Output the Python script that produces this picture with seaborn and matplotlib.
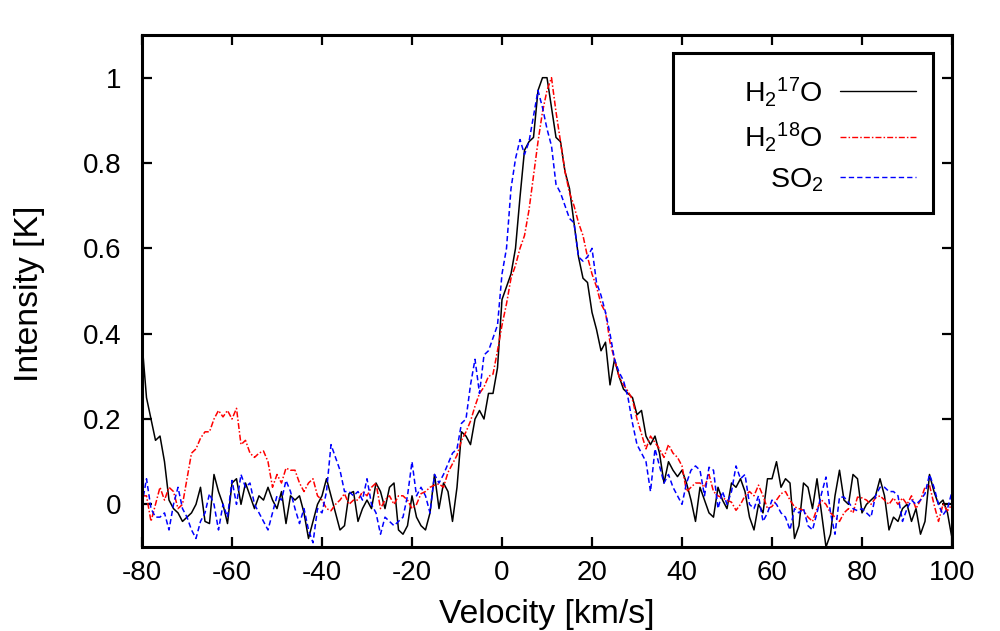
import numpy as np
import pandas as pd
import matplotlib
matplotlib.use("Agg")
import matplotlib.pyplot as plt
from matplotlib.patches import Rectangle
import seaborn as sns

# ---------------- data ----------------
velocity = list(range(-80, 101))  # km/s, 1 km/s channels

h2_17o = [
    0.38, 0.25, 0.20, 0.15, 0.16, 0.10, 0.01, -0.01, -0.02, -0.04,   # -80..-71
    -0.03, -0.02, 0.00, 0.04, -0.04, -0.045, 0.07, 0.03, 0.00, -0.045,  # -70..-61
    0.05, 0.06, 0.00, 0.05, 0.02, -0.01, 0.02, 0.01, 0.04, 0.01,      # -60..-51
    -0.01, 0.03, -0.045, 0.02, 0.01, 0.02, -0.02, -0.08, -0.04, 0.00,  # -50..-41
    0.02, 0.06, 0.02, -0.02, -0.06, -0.05, 0.025, 0.03, -0.04, -0.01,  # -40..-31
    0.01, -0.01, 0.05, 0.03, -0.01, 0.04, 0.05, -0.06, -0.07, -0.05,   # -30..-21
    0.02, -0.03, -0.05, -0.06, -0.02, 0.07, -0.01, 0.05, 0.03, -0.04,  # -20..-11
    0.04, 0.17, 0.16, 0.14, 0.20, 0.22, 0.20, 0.26, 0.26, 0.32,        # -10..-1
    0.48, 0.51, 0.54, 0.60, 0.72, 0.83, 0.85, 0.86, 0.97, 1.00,        # 0..9
    1.00, 0.93, 0.86, 0.85, 0.78, 0.74, 0.66, 0.58, 0.53, 0.52,        # 10..19
    0.45, 0.41, 0.36, 0.38, 0.28, 0.34, 0.30, 0.27, 0.26, 0.25,        # 20..29
    0.21, 0.22, 0.16, 0.14, 0.16, 0.12, 0.05, 0.10, 0.08, 0.065,       # 30..39
    0.08, 0.05, 0.01, -0.04, 0.04, 0.01, -0.02, -0.03, 0.04, 0.01,     # 40..49
    -0.01, 0.05, 0.04, 0.06, 0.03, -0.03, -0.06, 0.00, -0.02, 0.06,    # 50..59
    0.06, 0.10, 0.04, 0.06, 0.05, -0.08, -0.05, 0.05, 0.04, -0.01,     # 60..69
    0.06, -0.02, -0.10, -0.07, 0.02, 0.08, 0.01, 0.00, 0.07, 0.06,     # 70..79
    -0.02, 0.00, 0.01, 0.02, 0.06, 0.02, -0.06, -0.03, -0.04, -0.01,   # 80..89
    0.00, -0.04, -0.01, -0.07, -0.04, 0.07, 0.03, 0.00, 0.01, -0.02,   # 90..99
    -0.08,                                                              # 100
]

h2_18o = [
    0.02, 0.02, -0.04, 0.00, 0.04, 0.01, 0.04, 0.03, -0.01, 0.00,      # -80..-71
    0.06, 0.12, 0.13, 0.155, 0.17, 0.17, 0.20, 0.22, 0.205, 0.22,      # -70..-61
    0.20, 0.225, 0.14, 0.15, 0.12, 0.11, 0.12, 0.125, 0.10, 0.04,      # -60..-51
    0.07, 0.05, 0.085, 0.08, 0.08, 0.05, 0.03, 0.05, 0.06, 0.02,       # -50..-41
    0.01, -0.01, -0.015, 0.00, 0.01, 0.025, 0.00, 0.01, 0.01, 0.03,    # -40..-31
    0.02, 0.04, 0.05, -0.01, 0.01, 0.02, 0.00, 0.02, 0.02, 0.01,       # -30..-21
    -0.01, 0.00, 0.025, 0.03, 0.04, 0.045, 0.048, 0.04, 0.075, 0.095,  # -20..-11
    0.115, 0.15, 0.17, 0.195, 0.23, 0.26, 0.275, 0.30, 0.305, 0.36,    # -10..-1
    0.42, 0.47, 0.53, 0.56, 0.60, 0.63, 0.69, 0.77, 0.85, 0.92,        # 0..9
    0.97, 1.00, 0.92, 0.85, 0.78, 0.73, 0.70, 0.66, 0.63, 0.58,        # 10..19
    0.54, 0.51, 0.47, 0.45, 0.38, 0.34, 0.30, 0.28, 0.265, 0.245,      # 20..29
    0.20, 0.165, 0.13, 0.16, 0.145, 0.13, 0.11, 0.14, 0.12, 0.11,      # 30..39
    0.09, 0.03, 0.04, 0.05, 0.05, 0.04, 0.07, 0.03, 0.02, 0.015,       # 40..49
    0.01, 0.005, -0.014, 0.00, 0.02, 0.03, 0.02, 0.045, 0.02, -0.01,   # 50..59
    -0.005, 0.01, 0.025, 0.03, 0.01, -0.006, -0.01, -0.014, -0.03, -0.04,  # 60..69
    -0.01, 0.01, 0.00, -0.02, -0.03, -0.04, -0.02, -0.01, -0.02, 0.017,    # 70..79
    0.015, 0.01, 0.00, 0.015, 0.02, 0.01, 0.00, 0.015, 0.00, 0.015,    # 80..89
    0.00, 0.02, -0.01, 0.01, 0.04, 0.045, 0.00, -0.04, 0.00, -0.015,   # 90..99
    0.00,                                                               # 100
]

so2 = [
    0.00, 0.06, -0.01, -0.03, -0.03, -0.02, -0.06, 0.00, 0.04, -0.01,  # -80..-71
    -0.03, -0.06, -0.08, -0.04, -0.02, 0.025, 0.00, -0.06, 0.00, -0.03,  # -70..-61
    0.056, 0.00, 0.07, 0.04, 0.05, 0.00, -0.02, -0.04, -0.06, -0.02,   # -60..-51
    0.02, 0.01, 0.056, 0.03, -0.01, -0.045, -0.01, -0.06, -0.09, -0.01,  # -50..-41
    -0.02, 0.03, 0.14, 0.11, 0.08, 0.03, 0.03, 0.02, 0.03, 0.01,       # -40..-31
    0.06, 0.00, -0.02, -0.07, -0.03, -0.04, -0.05, -0.04, -0.03, 0.02,  # -30..-21
    0.10, 0.02, 0.04, 0.02, -0.02, 0.07, 0.05, 0.07, 0.095, 0.12,      # -20..-11
    0.13, 0.19, 0.20, 0.28, 0.34, 0.26, 0.35, 0.36, 0.39, 0.42,        # -10..-1
    0.54, 0.60, 0.74, 0.81, 0.855, 0.82, 0.85, 0.91, 0.97, 0.93,       # 0..9
    0.88, 0.84, 0.75, 0.73, 0.70, 0.67, 0.66, 0.58, 0.57, 0.58,        # 10..19
    0.60, 0.52, 0.49, 0.45, 0.40, 0.34, 0.31, 0.29, 0.25, 0.19,        # 20..29
    0.14, 0.12, 0.10, 0.03, 0.13, 0.09, 0.05, 0.07, 0.04, 0.02,        # 30..39
    0.00, 0.05, 0.08, 0.09, 0.08, 0.02, 0.087, 0.08, -0.01, 0.03,      # 40..49
    0.00, 0.03, 0.09, 0.06, 0.07, 0.00, -0.01, 0.02, -0.04, -0.02,     # 50..59
    0.01, 0.00, -0.02, -0.03, -0.06, -0.01, -0.02, -0.01, -0.05, -0.06,  # 60..69
    -0.02, 0.025, 0.064, -0.02, -0.07, 0.017, 0.017, 0.005, -0.01, -0.015,  # 70..79
    -0.01, -0.02, -0.03, 0.02, 0.04, 0.04, 0.03, 0.03, 0.02, -0.04,    # 80..89
    -0.01, 0.01, 0.00, 0.01, 0.025, 0.07, 0.04, 0.00, -0.025, -0.01,   # 90..99
    0.03,                                                               # 100
]

series_labels = [r"H$_2$$^{17}$O", r"H$_2$$^{18}$O", r"SO$_2$"]
x_ticks = [-80, -60, -40, -20, 0, 20, 40, 60, 80, 100]
y_ticks = [0, 0.2, 0.4, 0.6, 0.8, 1]
y_tick_labels = ["0", "0.2", "0.4", "0.6", "0.8", "1"]

# ---------------- style ----------------
sns.set_style("ticks")
plt.rcParams["font.family"] = ["Liberation Sans", "DejaVu Sans"]
plt.rcParams["mathtext.fontset"] = "custom"
plt.rcParams["mathtext.rm"] = "Liberation Sans"
plt.rcParams["mathtext.it"] = "Liberation Sans"
plt.rcParams["mathtext.bf"] = "Liberation Sans"
plt.rcParams["lines.scale_dashes"] = False
plt.rcParams["text.color"] = "black"
plt.rcParams["axes.labelcolor"] = "black"
plt.rcParams["xtick.color"] = "black"
plt.rcParams["ytick.color"] = "black"
plt.rcParams["axes.edgecolor"] = "black"

fig = plt.figure(figsize=(10, 6.31), dpi=100)
ax = fig.add_axes([0.142, 0.1331, 0.810, 0.8114])

df = pd.DataFrame({"v": velocity, "a": h2_17o, "b": h2_18o, "c": so2})

colors = ["#000000", "#ff0000", "#0000ff"]
dashes = [None, (4.3, 1.5, 1.1, 1.5), (3.8, 2.2)]
for col, lab, colr, dsh in zip(["a", "b", "c"], series_labels, colors, dashes):
    sns.lineplot(data=df, x="v", y=col, ax=ax, color=colr, label=lab,
                 linewidth=1.1, estimator=None, sort=False, legend=False)
    line = ax.lines[-1]
    if dsh is not None:
        line.set_dashes(dsh)

ax.set_xlim(-80, 100)
ax.set_ylim(-0.1, 1.1)
ax.set_xticks(x_ticks)
ax.set_xticklabels([str(t) for t in x_ticks])
ax.set_yticks(y_ticks)
ax.set_yticklabels(y_tick_labels)

for s in ax.spines.values():
    s.set_visible(True)
    s.set_linewidth(2.2)
    s.set_color("black")

ax.tick_params(axis="both", which="major", direction="in", length=7, width=1.6,
               top=True, right=True, labelsize=20, colors="black")
ax.tick_params(axis="x", pad=9)
ax.tick_params(axis="y", pad=15)

ax.set_xlabel("Velocity [km/s]", fontsize=24.3, color="black")
ax.set_ylabel("Intensity [K]", fontsize=24.3, color="black")
ax.xaxis.label.set_va("bottom")
ax.xaxis.set_label_coords(0.5, -0.163)
ax.yaxis.label.set_va("bottom")
ax.yaxis.set_label_coords(-0.12, 0.494)

# legend box (gnuplot-style wide key frame)
key_box = Rectangle((0.6556, 0.6523), 0.3209, 0.3125, transform=ax.transAxes,
                    facecolor="white", edgecolor="black", linewidth=2.2,
                    zorder=4.5)
ax.add_patch(key_box)

handles, labels = ax.get_legend_handles_labels()
leg = ax.legend(handles, labels, loc="upper right",
                bbox_to_anchor=(0.9556, 0.922), fontsize=20.5,
                markerfirst=False, frameon=False, labelcolor="black",
                borderpad=0, labelspacing=0.42, handlelength=2.66,
                handletextpad=0.6, borderaxespad=0)
leg.set_zorder(5)
for h in leg.get_lines():
    h.set_linewidth(1.0)

fig.savefig("out.png", dpi=100, facecolor="white")
